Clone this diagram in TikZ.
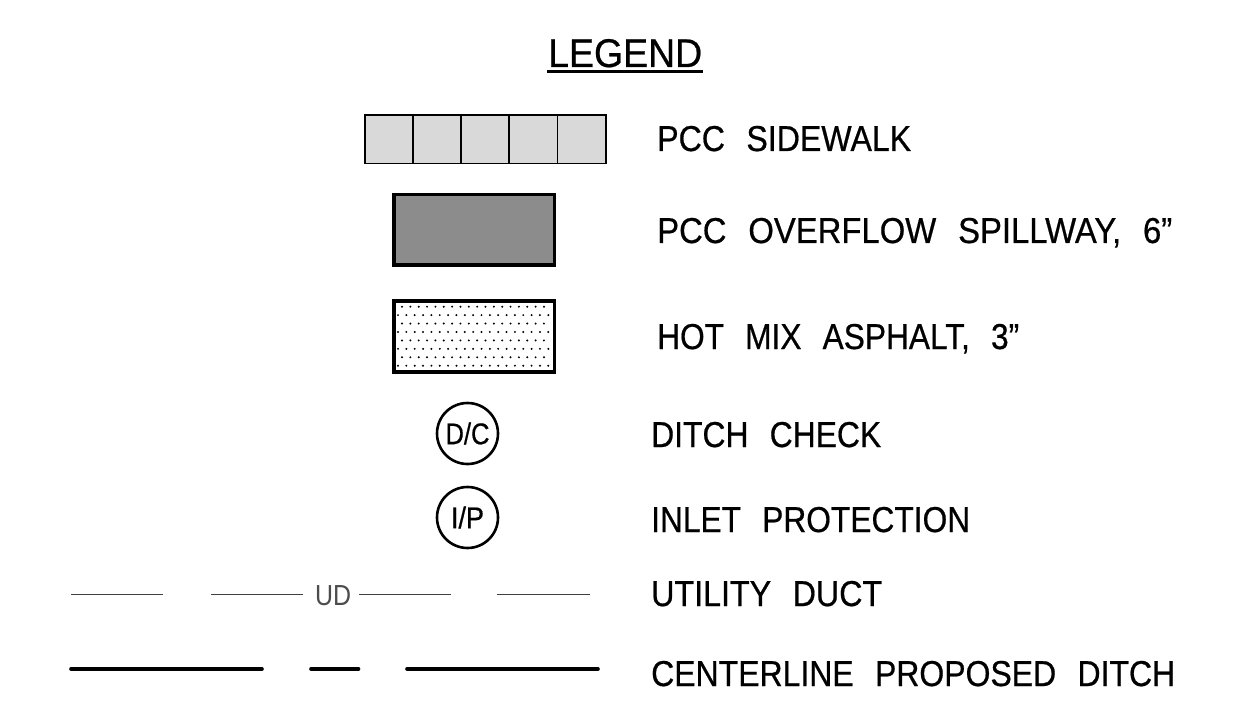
\documentclass[tikz,border=0pt]{standalone}
\usepackage{fontspec}
\usepackage{graphicx}
\setmainfont[WordSpace=2.4,FakeBold=0.6]{Liberation Sans}
\newfontfamily\plainfont{Liberation Sans}
\newcommand{\fitw}[2]{\resizebox{#1pt}{\height}{#2}}
\tikzset{
 x=1pt,y=-1pt,
 lbl/.style={anchor=base west,inner sep=0pt,font=\fontsize{36}{36}\selectfont,text=black},
 titlelbl/.style={anchor=base west,inner sep=0pt,font=\fontsize{40}{40}\selectfont,text=black},
 badge/.style={circle,draw=black,line width=2.6pt,minimum size=61pt,inner sep=0pt,font=\fontsize{30}{30}\selectfont},
 thinline/.style={draw=black!75,line width=0.9pt},
 thickline/.style={draw=black,line width=3.6pt,line cap=round},
 walk/.style={line width=1.7pt},
 heavybox/.style={line width=3.4pt},
}
\begin{document}
\begin{tikzpicture}
\useasboundingbox (0,0) rectangle (1245,714);
\node[titlelbl] (title) at (548,67) {\fitw{154}{LEGEND}};
\draw[line width=3.3pt] (547,71.8) -- (703,71.8);
% sidewalk
\draw[fill=black!15,walk] (365,115) rectangle (606,163.4);
\foreach \x in {413,461.3,509.3,557.5}{\draw[walk] (\x,115) -- (\x,163.4);}
% spillway
\draw[fill=black!45,heavybox] (394,194.5) rectangle (554.5,265);
% asphalt
\draw[fill=white,heavybox] (394,301) rectangle (554.5,372);
\foreach \r in {0,...,7}{
 \pgfmathsetmacro{\yy}{306.7+8.43*\r}
 \pgfmathtruncatemacro{\odd}{mod(\r,2)}
 \ifnum\odd=0
  \foreach \k in {0,...,17}{\fill (402+8.35*\k,\yy) circle (1.1pt);}
 \else
  \foreach \k in {0,...,18}{\fill (398+8.35*\k,\yy) circle (1.1pt);}
 \fi
}
\node[badge] (dc) at (467.5,433.5) {\resizebox{44pt}{\height}{D/C}};
\node[badge] (ip) at (467.5,517.5) {\resizebox{33pt}{\height}{I/P}};
% utility duct
\draw[thinline] (71,594) -- (163,594);
\draw[thinline] (211,594) -- (303,594);
\draw[thinline] (359,594) -- (451,594);
\draw[thinline] (497,594) -- (590,594);
\node[anchor=base west,inner sep=0pt,font=\plainfont\fontsize{29}{29}\selectfont,text=black!70] (ud) at (315,605) {\resizebox{36pt}{\height}{UD}};
% centerline
\draw[thickline] (71,669) -- (262,669);
\draw[thickline] (311,669) -- (358.5,669);
\draw[thickline] (407,669) -- (598,669);
% labels
\node[lbl] (a) at (657,151) {\fitw{254}{PCC SIDEWALK}};
\node[lbl] (b) at (657,243) {\fitw{515}{PCC OVERFLOW SPILLWAY, 6”}};
\node[lbl] (c) at (657,349) {\fitw{362}{HOT MIX ASPHALT, 3”}};
\node[lbl] (d) at (651,447) {\fitw{230}{DITCH CHECK}};
\node[lbl] (e) at (651,532) {\fitw{319}{INLET PROTECTION}};
\node[lbl] (f) at (651,606) {\fitw{231}{UTILITY DUCT}};
\node[lbl] (g) at (651,686) {\fitw{524}{CENTERLINE PROPOSED DITCH}};
\end{tikzpicture}
\end{document}
